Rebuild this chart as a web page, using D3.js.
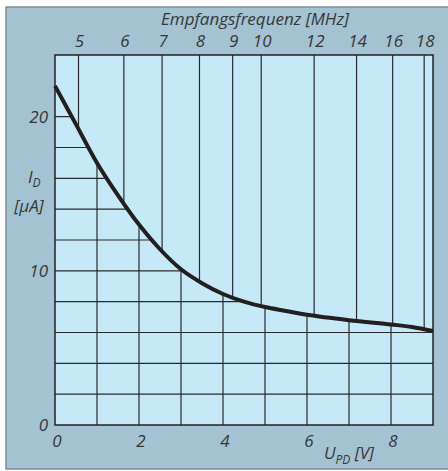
<!DOCTYPE html>
<html>
<head>
<meta charset="utf-8">
<script src="https://cdn.jsdelivr.net/npm/d3@7"></script>
<style>
  body { margin: 0; background: #fff; }
  text { font-family: "Open Sans", "DejaVu Sans", sans-serif; font-style: italic; fill: #383838; }
</style>
</head>
<body>
<svg id="chart"></svg>
<script>
// U_PD [V] vs I_D [uA]
const voltage = [0, 0.5, 1, 1.5, 2, 2.5, 3, 3.5, 4, 4.5, 5, 5.5, 6, 7, 8, 8.5, 9];
const current = [22, 19.5, 17.0, 14.9, 13.0, 11.4, 10.1, 9.2, 8.5, 8.0, 7.65, 7.4, 7.15, 6.8, 6.52, 6.36, 6.1];

// top axis: receive frequency and the voltage it lines up with
const freqTicks = [5, 6, 7, 8, 9, 10, 12, 14, 16, 18];
const freqVoltage = [0.56, 1.64, 2.55, 3.44, 4.23, 4.91, 6.17, 7.18, 8.04, 8.79];

const xTicks = [0, 2, 4, 6, 8];
const yTicks = [0, 10, 20];
const xGrid = [1, 2, 3, 4, 5, 6, 7, 8];
const yGrid = [2, 4, 6, 8, 10, 12, 14, 16, 18, 20, 22];

const width = 448;
const height = 471;
const plotLeft = 55, plotRight = 433, plotTop = 55, plotBottom = 425;

const data = voltage.map((u, i) => [u, current[i]]);

const svg = d3.select('#chart')
  .attr('width', width)
  .attr('height', height);

const xScale = d3.scaleLinear().domain([0, 9]).range([plotLeft, plotRight]);
const yScale = d3.scaleLinear().domain([0, 24]).range([plotBottom, plotTop]);
const fScale = d3.scaleLinear().domain(freqTicks).range(freqVoltage.map(xScale));

// outer panel
svg.append('rect')
  .attr('x', 6).attr('y', 7)
  .attr('width', 450).attr('height', 462)
  .attr('fill', '#a3c2d2')
  .attr('stroke', '#7b8c96')
  .attr('stroke-width', 1.5);

// plot area
svg.append('rect')
  .attr('x', plotLeft).attr('y', plotTop)
  .attr('width', plotRight - plotLeft).attr('height', plotBottom - plotTop)
  .attr('fill', '#c6e9f8');

const curve = d3.curveCatmullRom.alpha(0.5);

// clip regions below and above the curve
const defs = svg.append('defs');
defs.append('clipPath').attr('id', 'below')
  .append('path')
  .attr('d', d3.area()
    .x((d) => xScale(d[0]))
    .y0(plotBottom)
    .y1((d) => yScale(d[1]))
    .curve(curve)(data));
defs.append('clipPath').attr('id', 'above')
  .append('path')
  .attr('d', d3.area()
    .x((d) => xScale(d[0]))
    .y0(plotTop)
    .y1((d) => yScale(d[1]))
    .curve(curve)(data));

const gridColor = '#2b2b2b';

// U / I grid under the curve
const under = svg.append('g').attr('clip-path', 'url(#below)');
under.selectAll('line.h')
  .data(yGrid)
  .enter()
  .append('line')
  .attr('class', 'h')
  .attr('x1', plotLeft).attr('x2', plotRight)
  .attr('y1', (d) => yScale(d)).attr('y2', (d) => yScale(d))
  .attr('stroke', gridColor)
  .attr('stroke-width', 1.2);
under.selectAll('line.v')
  .data(xGrid)
  .enter()
  .append('line')
  .attr('class', 'v')
  .attr('x1', (d) => xScale(d)).attr('x2', (d) => xScale(d))
  .attr('y1', plotTop).attr('y2', plotBottom)
  .attr('stroke', gridColor)
  .attr('stroke-width', 1.2);

// frequency lines above the curve
svg.append('g').attr('clip-path', 'url(#above)')
  .selectAll('line')
  .data(freqTicks)
  .enter()
  .append('line')
  .attr('x1', (d) => fScale(d)).attr('x2', (d) => fScale(d))
  .attr('y1', plotTop).attr('y2', plotBottom)
  .attr('stroke', gridColor)
  .attr('stroke-width', 1.2);

// frame
svg.append('rect')
  .attr('x', plotLeft).attr('y', plotTop)
  .attr('width', plotRight - plotLeft).attr('height', plotBottom - plotTop)
  .attr('fill', 'none')
  .attr('stroke', '#231f20')
  .attr('stroke-width', 1.5);

// the curve
svg.append('path')
  .datum(data)
  .attr('fill', 'none')
  .attr('stroke', '#231f20')
  .attr('stroke-width', 4)
  .attr('d', d3.line()
    .x((d) => xScale(d[0]))
    .y((d) => yScale(d[1]))
    .curve(curve));

// bottom axis labels
svg.selectAll('text.x')
  .data(xTicks)
  .enter()
  .append('text')
  .attr('class', 'x')
  .attr('x', (d) => xScale(d) + 2)
  .attr('y', 447)
  .attr('text-anchor', 'middle')
  .attr('font-size', 17)
  .text((d) => d);

// left axis labels
svg.selectAll('text.y')
  .data(yTicks)
  .enter()
  .append('text')
  .attr('class', 'y')
  .attr('x', 48)
  .attr('y', (d) => yScale(d) + 6)
  .attr('text-anchor', 'end')
  .attr('font-size', 17)
  .text((d) => d);

// top axis labels
svg.selectAll('text.f')
  .data(freqTicks)
  .enter()
  .append('text')
  .attr('class', 'f')
  .attr('x', (d) => fScale(d) + 1)
  .attr('y', 47)
  .attr('text-anchor', 'middle')
  .attr('font-size', 17)
  .text((d) => d);

svg.append('text')
  .attr('x', 255).attr('y', 25)
  .attr('text-anchor', 'middle')
  .attr('font-size', 17)
  .text('Empfangsfrequenz [MHz]');

// axis titles
const uLabel = svg.append('text')
  .attr('x', 324).attr('y', 459)
  .attr('font-size', 17);
uLabel.append('tspan').text('U');
uLabel.append('tspan').attr('font-size', 12).attr('dy', 5).text('PD');
uLabel.append('tspan').attr('dy', -5).text(' [V]');

const iLabel = svg.append('text')
  .attr('x', 28).attr('y', 183)
  .attr('font-size', 17);
iLabel.append('tspan').text('I');
iLabel.append('tspan').attr('font-size', 12).attr('dy', 4).text('D');

svg.append('text')
  .attr('x', 29).attr('y', 212)
  .attr('text-anchor', 'middle')
  .attr('font-size', 17)
  .text('[µA]');
</script>
</body>
</html>
